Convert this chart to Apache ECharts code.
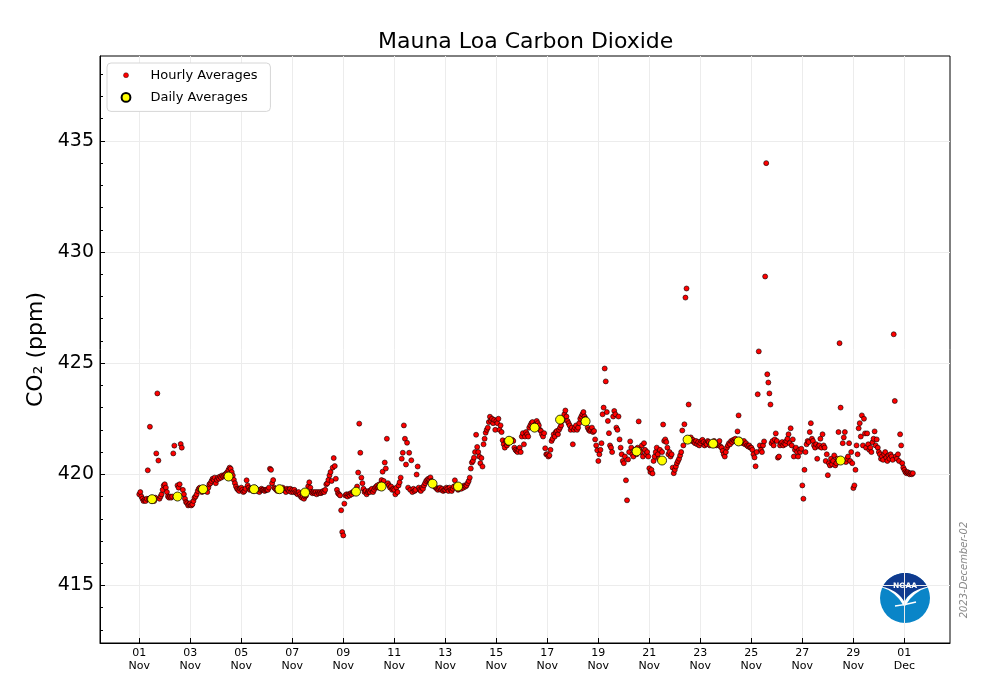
<!DOCTYPE html>
<html>
<head>
<meta charset="utf-8">
<script src="https://cdn.jsdelivr.net/npm/echarts@6/dist/echarts.min.js"></script>
<style>html,body{margin:0;padding:0;background:#fff}#c{width:1000px;height:700px}</style>
</head>
<body>
<div id="c"></div>
<script>
// ---- Hourly averages (ppm), one array per day, index = hour of day (UTC) ----
const nov01 = [419.1,419.2,419.0,418.9,418.8,418.85,418.8,418.9,420.18,418.9,422.14,418.85,418.8,418.9,418.8,418.95,420.94,423.64,420.62,418.9,419.0,419.1,419.3,419.5];
const nov02 = [419.55,419.4,419.2,419.0,418.95,419.0,418.95,419.0,420.94,421.29,419.0,419.0,419.5,419.4,419.55,421.36,421.2,419.3,419.1,418.9,418.75,418.7,418.6,418.65];
const nov03 = [418.7,418.6,418.65,418.8,418.95,419.0,419.1,419.25,419.35,419.4,419.3,419.2,419.3,419.25,419.35,419.3,419.2,419.4,419.55,419.6,419.7,419.8,419.75,419.85];
const nov04 = [419.6,419.75,419.85,419.8,419.9,419.85,419.95,419.9,419.95,420.0,420.05,420.1,420.2,420.3,420.25,420.1,419.95,419.75,419.6,419.45,419.35,419.3,419.25,419.35];
const nov05 = [419.4,419.3,419.2,419.25,419.35,419.73,419.5,419.4,419.3,419.35,419.3,419.25,419.35,419.4,419.3,419.25,419.3,419.2,419.3,419.35,419.3,419.3,419.25,419.3];
const nov06 = [419.3,419.3,419.4,420.25,420.2,419.6,419.74,419.4,419.35,419.3,419.25,419.3,419.35,419.3,419.3,419.4,419.3,419.3,419.2,419.35,419.3,419.25,419.35,419.2];
const nov07 = [419.3,419.2,419.3,419.2,419.15,419.1,419.2,419.1,419.0,418.95,419.0,418.9,419.0,419.05,419.2,419.46,419.64,419.4,419.2,419.15,419.2,419.15,419.2,419.1];
const nov08 = [419.2,419.15,419.2,419.15,419.2,419.25,419.2,419.3,419.55,419.6,419.75,419.95,420.1,419.7,420.3,420.73,420.37,419.8,419.3,419.15,419.1,419.05,418.38,417.4];
const nov09 = [417.25,418.68,419.05,419.1,419.0,419.1,419.05,419.15,419.1,419.2,419.2,419.15,419.3,419.45,420.08,422.28,420.97,419.85,419.6,419.35,419.2,419.25,419.1,419.2];
const nov10 = [419.25,419.2,419.3,419.35,419.2,419.3,419.4,419.45,419.5,419.4,419.55,419.5,419.74,420.12,419.7,420.53,420.26,421.6,419.6,419.5,419.4,419.45,419.3,419.35];
const nov11 = [419.3,419.1,419.4,419.2,419.5,419.64,419.85,420.7,420.97,422.2,421.6,420.44,421.42,419.4,420.97,419.3,420.63,419.2,419.35,419.25,419.3,419.99,420.35,419.4];
const nov12 = [419.3,419.25,419.4,419.35,419.5,419.6,419.7,419.75,419.8,419.75,419.86,419.7,419.65,419.5,419.45,419.4,419.35,419.3,419.35,419.4,419.3,419.35,419.25,419.3];
const nov13 = [419.3,419.4,419.35,419.25,419.4,419.3,419.25,419.35,419.45,419.73,419.5,419.4,419.3,419.35,419.4,419.35,419.45,419.4,419.5,419.45,419.5,419.6,419.7,419.85];
const nov14 = [420.26,420.53,420.6,420.75,421.0,421.78,421.23,421.0,420.8,420.5,420.73,420.35,421.35,421.6,421.87,422.0,422.1,422.35,422.59,422.4,422.5,422.3,422.45,422.0];
const nov15 = [422.4,422.3,422.5,422.0,422.2,421.9,421.53,421.35,421.2,421.5,421.3,421.4,421.5,421.45,421.5,421.55,421.5,421.2,421.1,421.05,421.0,421.1,421.2,421.0];
const nov16 = [421.7,421.85,421.35,421.7,421.9,421.8,421.7,422.1,422.2,422.3,422.35,422.1,422.2,422.25,422.4,422.3,422.2,422.0,421.95,421.8,421.7,421.85,421.17,420.9];
const nov17 = [420.9,420.8,420.85,421.1,421.5,421.6,421.8,421.7,421.9,421.95,421.8,422.0,422.1,422.2,422.4,422.55,422.7,422.87,422.6,422.4,422.3,422.2,422.0,422.1];
const nov18 = [421.35,422.0,422.1,422.2,422.0,422.1,422.3,422.5,422.6,422.7,422.8,422.6,422.5,422.4,422.1,422.0,421.95,422.0,422.1,421.9,421.95,421.57,421.3,421.08];
const nov19 = [420.6,420.9,421.1,421.4,422.7,423.0,424.76,424.18,422.8,422.4,421.85,421.3,421.2,421.0,422.6,422.85,422.7,422.1,422.0,422.6,421.57,421.2,420.9,420.6];
const nov20 = [420.5,420.8,419.73,418.83,420.67,421.0,421.48,421.2,420.9,420.8,421.1,421.0,420.9,421.2,422.38,421.1,421.0,421.3,420.8,421.4,421.1,420.9,421.0,420.8];
const nov21 = [420.27,420.1,420.2,420.04,420.6,420.8,421.0,421.2,420.9,420.7,421.1,420.65,421.0,422.24,421.5,421.57,421.45,421.2,420.9,421.0,420.8,420.9,420.3,420.05];
const nov22 = [420.2,420.35,420.5,420.6,420.7,420.85,421.0,421.97,421.3,422.25,427.95,428.36,421.5,423.14,421.6,421.66,421.5,421.55,421.45,421.4,421.5,421.35,421.45,421.3];
const nov23 = [421.4,421.5,421.55,421.45,421.3,421.4,421.35,421.5,421.45,421.3,421.4,421.35,421.45,421.5,421.4,421.3,421.35,421.4,421.5,421.25,421.2,421.05,420.9,420.8];
const nov24 = [421.0,421.2,421.3,421.4,421.35,421.5,421.45,421.55,421.5,421.6,421.5,421.93,422.65,421.55,421.5,421.45,421.4,421.5,421.35,421.4,421.3,421.25,421.3,421.2];
const nov25 = [421.2,421.1,420.9,420.76,420.36,421.0,423.6,425.53,421.3,421.1,421.0,421.3,421.48,428.9,434.0,424.5,424.13,423.64,423.14,421.4,421.5,421.3,421.57,421.84];
const nov26 = [421.5,420.75,420.8,421.3,421.4,421.45,421.3,421.4,421.35,421.5,421.6,421.8,421.4,422.07,421.3,421.57,420.8,421.1,421.2,421.0,420.8,421.1,421.0,421.15];
const nov27 = [419.5,418.9,420.2,421.0,421.35,421.5,421.45,421.9,422.3,421.6,421.5,421.3,421.2,421.35,420.7,421.25,421.3,421.6,421.2,421.8,421.3,421.2,420.6,420.9];
const nov28 = [419.96,420.5,420.4,420.7,420.45,420.6,420.85,420.4,420.5,420.7,421.9,425.9,423.0,420.6,421.4,421.66,421.9,420.55,420.7,420.8,421.4,420.6,421.0,420.5];
const nov29 = [419.38,419.5,420.2,421.3,420.9,422.07,422.3,421.7,422.65,421.3,422.5,421.84,421.2,421.84,421.35,421.1,421.2,421.0,421.44,421.6,421.93,421.3,421.57,421.2];
const nov30 = [421.0,420.9,420.7,420.8,420.65,420.9,421.0,420.75,420.6,420.85,420.7,420.9,420.8,420.65,426.3,423.3,420.8,420.7,420.9,420.6,421.8,421.3,420.5,420.3];
const dec01 = [420.2,420.1,420.05,420.1,420.05,420.0,420.05,420.0,420.05];

const hourlyByDay = [nov01,nov02,nov03,nov04,nov05,nov06,nov07,nov08,nov09,nov10,nov11,nov12,nov13,nov14,nov15,nov16,nov17,nov18,nov19,nov20,nov21,nov22,nov23,nov24,nov25,nov26,nov27,nov28,nov29,nov30,dec01];

// ---- Daily averages (ppm), Nov 1 .. Nov 30 (null = not shown) ----
const dailyMeans = [418.88,419.00,419.33,419.90,419.33,419.33,419.18,null,419.22,419.45,null,419.58,419.45,null,421.51,422.10,422.46,422.38,null,421.03,420.62,421.56,421.38,421.48,null,null,null,420.62,null,null];

// ---- Tick positions / labels ----
const xTickDays = [0,2,4,6,8,10,12,14,16,18,20,22,24,26,28,30];
const xTickLabels = ['01\nNov','03\nNov','05\nNov','07\nNov','09\nNov','11\nNov','13\nNov','15\nNov','17\nNov','19\nNov','21\nNov','23\nNov','25\nNov','27\nNov','29\nNov','01\nDec'];
const yTicks = [415,420,425,430,435];
const yMinorTicks = [413,414,416,417,418,419,421,422,423,424,426,427,428,429,431,432,433,434,436,437,438];

// x value = days since 2023-11-01 00:00
const hourlyData = [];
hourlyByDay.forEach((arr, d) => arr.forEach((v, h) => { if (v != null) hourlyData.push([d + h / 24, v]); }));
const dailyData = [];
dailyMeans.forEach((v, d) => { if (v != null) dailyData.push([d + 0.5, v]); });

// NOAA logo shield outline (decoration)
function shieldPoints() {
  const cx = 905, cy = 598, r = 25, pts = [];
  const a0 = Math.atan2(-11, -22), a1 = Math.atan2(-11, 22);
  for (let i = 0; i <= 24; i++) {
    const a = a0 + (a1 - a0 + 2 * Math.PI) % (2 * Math.PI) * i / 24;
    pts.push([cx + r * Math.cos(a), cy + r * Math.sin(a)]);
  }
  const q = (p0, c, p1, t) => [(1-t)*(1-t)*p0[0] + 2*(1-t)*t*c[0] + t*t*p1[0], (1-t)*(1-t)*p0[1] + 2*(1-t)*t*c[1] + t*t*p1[1]];
  for (let i = 1; i <= 12; i++) pts.push(q([927,587],[911,590],[904,601], i/12));
  for (let i = 1; i <= 12; i++) pts.push(q([904,601],[897,590],[883,587], i/12));
  return pts;
}

const FONT = 'DejaVu Sans';
const chart = echarts.init(document.getElementById('c'));
chart.setOption({
  animation: false,
  backgroundColor: '#fff',
  textStyle: { fontFamily: FONT },
  title: {
    text: 'Mauna Loa Carbon Dioxide',
    left: 373, top: 26,
    textStyle: { fontFamily: FONT, fontSize: 22, fontWeight: 'normal', color: '#000' }
  },
  legend: {
    left: 107, top: 63, orient: 'vertical',
    padding: [5, 13, 6, 11],
    itemWidth: 39, itemHeight: 14, itemGap: 7,
    backgroundColor: '#fff', borderColor: '#d6d6d6', borderWidth: 1, borderRadius: 4,
    textStyle: { fontFamily: FONT, fontSize: 13, color: '#000' },
    data: [
      { name: 'Hourly Averages', icon: 'path://M0,0M14,14M7,4.5A2.5,2.5,0,1,1,7,9.5A2.5,2.5,0,1,1,7,4.5Z', itemStyle: { borderWidth: 0.4 } },
      { name: 'Daily Averages', icon: 'path://M0,0M14,14M7,2.6A4.4,4.4,0,1,1,7,11.4A4.4,4.4,0,1,1,7,2.6Z' }
    ],
    z: 10
  },
  grid: { left: 100, top: 56, right: 50, bottom: 57, show: true, borderColor: '#000', borderWidth: 1, backgroundColor: 'transparent' },
  xAxis: {
    type: 'value', min: -1.54, max: 31.79,
    axisLine: { show: true, onZero: false, lineStyle: { color: '#000', width: 1 } },
    axisTick: { show: true, inside: true, length: 5, customValues: xTickDays, lineStyle: { color: '#000' } },
    axisLabel: {
      customValues: xTickDays, fontSize: 11, lineHeight: 13, margin: 4, color: '#000', fontFamily: FONT,
      formatter: v => { const i = xTickDays.findIndex(d => Math.abs(d - v) < 1e-6); return i >= 0 ? xTickLabels[i] : ''; }
    },
    splitLine: { show: true, lineStyle: { color: '#ececec', width: 1 } }
  },
  yAxis: [
    {
      type: 'value', min: 412.41, max: 438.82, position: 'left',
      name: 'CO₂ (ppm)', nameLocation: 'middle', nameGap: 50, nameRotate: 90,
      nameTextStyle: { fontFamily: FONT, fontSize: 22, color: '#000' },
      axisLine: { show: true, onZero: false, lineStyle: { color: '#000', width: 1 } },
      axisTick: { show: true, inside: true, length: 5, customValues: yTicks, lineStyle: { color: '#000' } },
      axisLabel: { customValues: yTicks, fontSize: 19, margin: 6, color: '#000', fontFamily: FONT },
      splitLine: { show: true, lineStyle: { color: '#ececec', width: 1 } }
    },
    {
      type: 'value', min: 412.41, max: 438.82, position: 'left',
      axisLine: { show: false, onZero: false },
      axisTick: { show: true, inside: true, length: 3, customValues: yMinorTicks, lineStyle: { color: '#000' } },
      axisLabel: { show: false },
      splitLine: { show: false }
    }
  ],
  series: [
    {
      name: 'Hourly Averages', type: 'scatter', data: hourlyData, symbol: 'circle', symbolSize: 5,
      itemStyle: { color: '#ff0000', borderColor: '#000', borderWidth: 0.6, opacity: 1 }, z: 2
    },
    {
      name: 'Daily Averages', type: 'scatter', data: dailyData, symbol: 'circle', symbolSize: 9,
      itemStyle: { color: '#ffff00', borderColor: '#000', borderWidth: 0.8, opacity: 1 }, z: 3
    }
  ],
  graphic: [
    {
      type: 'text', x: 964, y: 570, rotation: Math.PI / 2,
      style: { text: '2023-December-02', fontFamily: FONT, fontSize: 10, fontStyle: 'italic', fill: '#888', align: 'center', verticalAlign: 'middle' }
    },
    {
      type: 'group', z: 20,
      children: [
        { type: 'circle', shape: { cx: 905, cy: 598, r: 25 }, style: { fill: '#0a85c8' } },
        { type: 'bezierCurve', shape: { x1: 880, y1: 585, cpx1: 897, cpy1: 590, x2: 905, y2: 605 }, style: { fill: null, stroke: '#fff', lineWidth: 3 } },
        { type: 'bezierCurve', shape: { x1: 930, y1: 585, cpx1: 912, cpy1: 590, x2: 904, y2: 605 }, style: { fill: null, stroke: '#fff', lineWidth: 3 } },
        { type: 'polygon', shape: { points: shieldPoints() }, style: { fill: '#0f3a8e' } },
        { type: 'bezierCurve', shape: { x1: 895, y1: 606, cpx1: 905, cpy1: 605, x2: 916, y2: 602 }, style: { fill: null, stroke: '#fff', lineWidth: 1.5 } },
        { type: 'text', x: 905, y: 586, style: { text: 'NOAA', fontFamily: FONT, fontSize: 7.5, fontWeight: 'bold', fill: '#fff', align: 'center', verticalAlign: 'middle' } }
      ]
    }
  ]
});
</script>
</body>
</html>
